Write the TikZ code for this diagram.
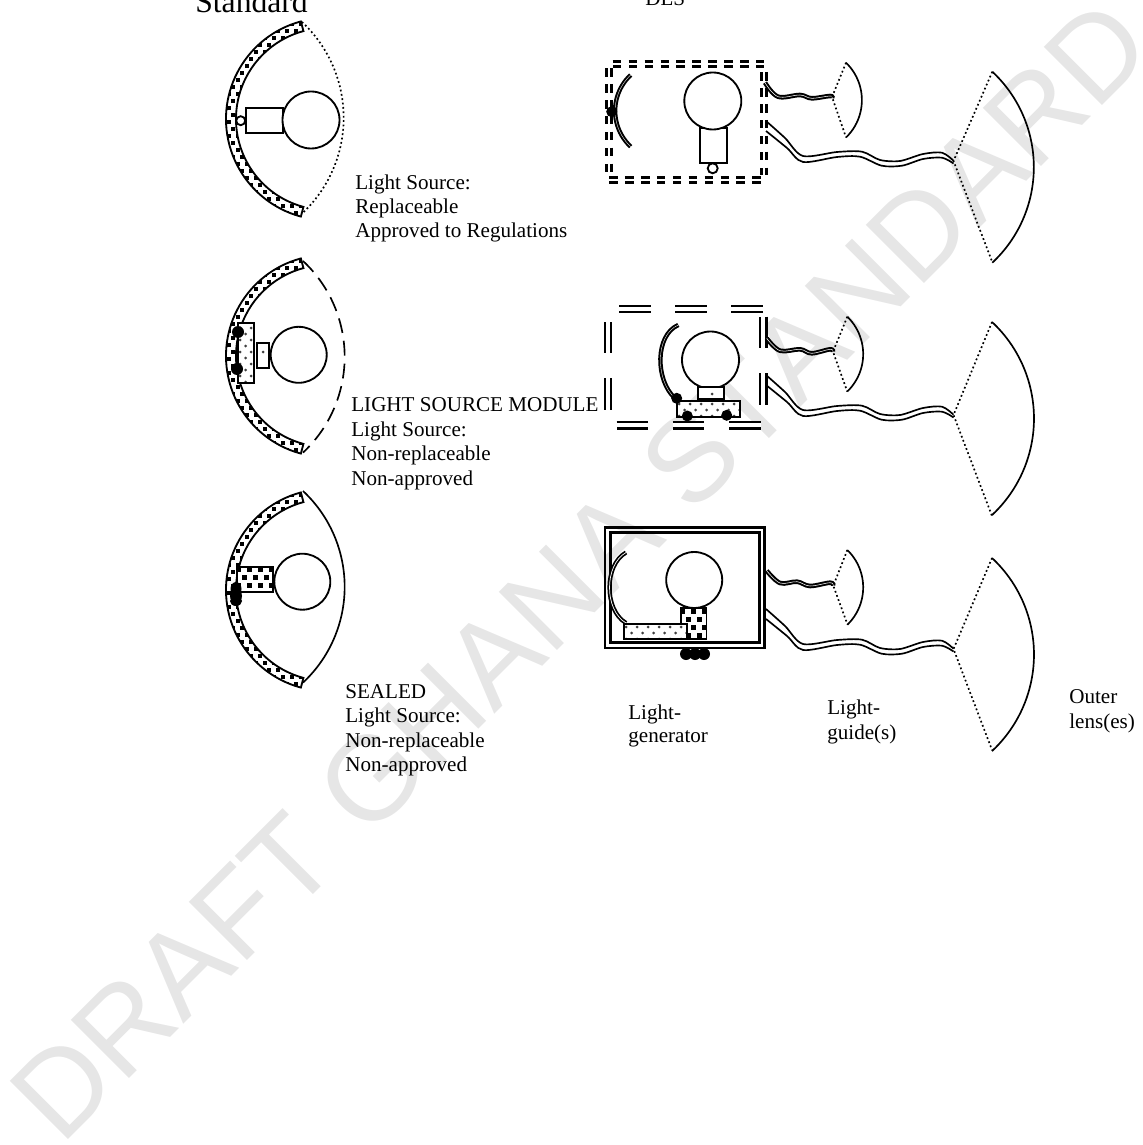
\documentclass[tikz,border=0pt]{standalone}
\usepackage{fontspec}
\setmainfont{Liberation Serif}
\newfontfamily\wmfont[Kerning=Off]{Liberation Sans}
\definecolor{wmgray}{HTML}{E6E6E6}
\tikzset{
  x=0.02cm,y=0.02cm,
  outl/.style={draw=black,line width=1.05pt},
  lbl/.style={anchor=base west,inner sep=0pt,font=\fontsize{12pt}{14pt}\selectfont},
  gline/.style={draw=black,line width=0.95pt,line join=round},
  tguide/.style={draw=black,double=white,double distance=0.3pt,line width=1.15pt},
  refl/.style={draw=black,double=white,double distance=0.2pt,line width=1.15pt},
  duo/.style={draw=black,double=white,double distance=2.2pt,line width=1.3pt},
  duodash/.style={draw=black,double=white,double distance=0.9pt,line width=1.6pt,dash pattern=on 4.93pt off 4.14pt},
  blob/.style={fill=black,draw=none},
  lensedge/.style={draw=black,line width=0.95pt},
  dotedge/.style={draw=black,line width=0.95pt,dash pattern=on 1pt off 1.5pt},
  boxline/.style={draw=black,line width=1.5pt},
}
% #1 x0, #2 y0, #3 cols, #4 rows
\newcommand{\densedots}[4]{%
  \foreach \i in {0,...,#3}{\foreach \j in {0,...,#4}{%
    \pgfmathsetmacro{\xx}{#1+\i*11+mod(\j,2)*5.5}%
    \pgfmathsetmacro{\yy}{#2-\j*8}%
    \fill[black] (\xx,\yy) rectangle +(5,5);}}}
\newcommand{\banddots}[4]{%
  \foreach \i in {0,...,#3}{\foreach \j in {0,...,#4}{%
    \pgfmathsetmacro{\xx}{#1+\i*9+mod(\j,2)*4.5}%
    \pgfmathsetmacro{\yy}{#2-\j*7}%
    \fill[black] (\xx,\yy) rectangle +(4.4,4.4);}}}
\newcommand{\sparsedots}[4]{%
  \foreach \i in {0,...,#3}{\foreach \j in {0,...,#4}{%
    \pgfmathsetmacro{\xx}{#1+\i*11+mod(\j,2)*5.5}%
    \pgfmathsetmacro{\yy}{#2-\j*6}%
    \fill[black!75] (\xx,\yy) circle (1.5);}}}
\newcommand{\band}[1]{%
  \begin{scope}[shift={(327,-#1)}]
    \begin{scope}
      \clip (105:101) arc (105:255:101) -- (255:91) arc (255:105:91) -- cycle;
      \banddots{-105}{100}{10}{29}
    \end{scope}
    \draw[outl] (105:101) arc (105:255:101) -- (255:91) arc (255:105:91) -- cycle;
  \end{scope}}
\newcommand{\bigguide}[1]{%
  \begin{scope}[shift={(0,-#1)}]
    \draw[gline] plot[smooth,tension=0.5] coordinates {(766,-121) (785,-138) (803,-156) (837,-152) (862,-151.7) (880,-160) (900,-161) (923,-154) (942,-152.7) (953.5,-160.7)};
    \draw[gline] plot[smooth,tension=0.5] coordinates {(766,-131) (787,-148) (803,-162) (837,-157) (860,-156.7) (881.7,-165.7) (902,-165.7) (923,-159) (942,-157.7) (953.5,-163.5)};
  \end{scope}}
\begin{document}
\begin{tikzpicture}
\useasboundingbox (0,0) rectangle (1142,-1145);
% watermark
\node[rotate=45,anchor=base,text=wmgray,inner sep=0pt,font=\wmfont\fontsize{68.1pt}{68pt}\selectfont] (wm) at (609.3,-598.7) {DRAFT GHANA STANDARD};

% titles
\node[lbl,font=\fontsize{18pt}{20pt}\selectfont] (t1) at (195,-13) {Standard};
\node[lbl] (t2) at (645,-6) {DLS};

% ===== left column =====
\band{119}
\draw[dotedge] (302,-22) arc (47:-47:131);
\draw[outl,fill=white] (246,-108) rectangle (283,-133);
\draw[outl,fill=white] (311,-120) circle (28.5);
\draw[outl,fill=white] (240.7,-120.7) circle (4.5);
\node[lbl] (a1) at (355,-190) {Light Source:};
\node[lbl] (a2) at (355,-213.5) {Replaceable};
\node[lbl] (a3) at (355,-238) {Approved to Regulations};

\band{356}
\draw[lensedge,dash pattern=on 8.5pt off 4.5pt] (303,-261) arc (47:-47:131);
\begin{scope}
  \clip (238,-322.7) rectangle (254,-382.7);
  \fill[white] (238,-322.7) rectangle (254,-382.7);
  \sparsedots{240}{-328}{1}{9}
\end{scope}
\draw[outl] (238,-322.7) rectangle (254,-382.7);
\draw[outl,fill=white] (256.7,-342.7) rectangle (269.3,-367.7);
\fill[black!75] (263,-352) circle (1.5);
\draw[outl,fill=white] (298.7,-354.8) circle (28);
\fill[blob] (238,-332) circle (6);
\fill[blob] (237,-369) circle (6);
\node[lbl] (b1) at (351,-411) {LIGHT SOURCE MODULE};
\node[lbl] (b2) at (351,-436) {Light Source:};
\node[lbl] (b3) at (351,-460) {Non-replaceable};
\node[lbl] (b4) at (351,-485) {Non-approved};

\band{590}
\draw[lensedge] (303,-491) arc (47:-47:131);
\begin{scope}
  \clip (236.7,-567.3) rectangle (273.3,-592.3);
  \fill[white] (236.7,-567.3) rectangle (273.3,-592.3);
  \densedots{236}{-572}{4}{3}
\end{scope}
\draw[outl] (236.7,-567.3) rectangle (273.3,-592.3);
\draw[outl,fill=white] (302.3,-581.7) circle (28);
\fill[blob] (236,-589) ellipse (5.5 and 7);
\fill[blob] (236,-596) ellipse (6 and 7);
\fill[blob] (236,-601) ellipse (6 and 5);
\node[lbl] (c1) at (345,-698.3) {SEALED};
\node[lbl] (c2) at (345,-722.7) {Light Source:};
\node[lbl] (c3) at (345,-747.5) {Non-replaceable};
\node[lbl] (c4) at (345,-771.7) {Non-approved};

% ===== right column, row 1 =====
\draw[duodash] (612.7,-64) -- (764,-64);
\draw[duodash] (609,-180) -- (762,-180);
\draw[duodash] (609,-68) -- (609,-173);
\draw[duodash] (764,-72) -- (764,-175);
\draw[refl] (630.7,-75) arc (133:227:49);
\fill[blob] (611.7,-111.7) circle (5.5);
\draw[outl,fill=white] (700,-128.3) rectangle (726.7,-163.3);
\draw[outl,fill=white] (712.8,-101) circle (28.5);
\draw[outl,fill=white] (712.7,-168.3) circle (5);
\draw[tguide] plot[smooth,tension=0.6] coordinates {(765,-82.7) (778,-96.7) (800,-95) (811.7,-98.3) (830,-96) (832,-98)};
\draw[dotedge] (846,-62.7) -- (832,-97) -- (846,-137.3);
\draw[lensedge] (846,-62.7) arc (46:-46:52);
\bigguide{0}
\draw[dotedge] (992.3,-71.7) -- (953.5,-161) -- (992.5,-262.7);
\draw[lensedge] (992.3,-71.7) arc (47:-47:130.6);

% ===== right column, row 2 =====
\foreach \a/\b in {619.3/651.3,675/707.3,731/763.3}{\draw[duo] (\a,-309) -- (\b,-309);}
\foreach \a/\b in {616.7/648.3,672.7/704.3,729/760.7}{\draw[duo] (\a,-425.3) -- (\b,-425.3);}
\foreach \a/\b in {322.3/353.3,378.3/410}{\draw[duo] (608,-\a) -- (608,-\b);}
\foreach \a/\b in {316.7/348.3,373.3/405}{\draw[duo] (763.3,-\a) -- (763.3,-\b);}
\draw[refl] (678.3,-325) .. controls (655,-335) and (655,-380) .. (675,-398.3);
\draw[outl,fill=white] (710.5,-360) circle (28.5);
\draw[outl,fill=white] (697.7,-387.3) rectangle (724.3,-399.3);
\fill[black!75] (712,-394) circle (1.5);
\begin{scope}
  \clip (676.7,-401) rectangle (740,-417.3);
  \fill[white] (676.7,-401) rectangle (740,-417.3);
  \sparsedots{679}{-404}{5}{2}
\end{scope}
\draw[outl] (676.7,-401) rectangle (740,-417.3);
\fill[blob] (676.7,-398.3) circle (5.5);
\fill[blob] (687.3,-416) circle (5.5);
\fill[blob] (726.7,-415.3) circle (5.5);
\draw[tguide] plot[smooth,tension=0.6] coordinates {(766.7,-338.3) (780,-350.7) (800,-349.3) (811.7,-353.3) (830,-349.3) (833,-351.7)};
\draw[dotedge] (847.3,-316.7) -- (833,-351.7) -- (847.3,-391.7);
\draw[lensedge] (847.3,-316.7) arc (46:-46:52);
\bigguide{254}
\draw[dotedge] (992,-322) -- (953.5,-415) -- (992,-516);
\draw[lensedge] (992,-322) arc (47:-47:132);

% ===== right column, row 3 =====
\draw[boxline] (605,-527.5) rectangle (764.2,-648);
\draw[boxline] (610.3,-532.3) rectangle (759.2,-642.7);
\draw[refl,double distance=0.4pt,line width=1pt] (626,-552.5) .. controls (604,-565) and (604,-610) .. (626,-623);
\draw[outl,fill=white] (694.2,-580) circle (28);
\begin{scope}
  \clip (681,-608) rectangle (706.5,-639.3);
  \fill[white] (681,-608) rectangle (706.5,-639.3);
  \densedots{680}{-614}{2}{3}
\end{scope}
\draw[outl] (681,-608) rectangle (706.5,-639.3);
\begin{scope}
  \clip (624.3,-624) rectangle (687.3,-639.3);
  \fill[white] (624.3,-624) rectangle (687.3,-639.3);
  \sparsedots{626}{-627}{5}{2}
\end{scope}
\draw[outl] (624.3,-624) rectangle (687.3,-639.3);
\fill[blob] (686,-654) circle (6);
\fill[blob] (695,-654) circle (6);
\fill[blob] (704,-654) circle (6);
\draw[tguide] plot[smooth,tension=0.6] coordinates {(766.7,-570.7) (780,-583) (797,-581.7) (810,-586) (830,-582.7) (833.3,-585.7)};
\draw[dotedge] (847.3,-550) -- (833.3,-585.7) -- (847.3,-624);
\draw[lensedge] (847.3,-550) arc (46:-46:52);
\bigguide{488}
\draw[dotedge] (992,-558) -- (953.5,-649) -- (992,-750);
\draw[lensedge] (992,-558) arc (47:-47:132);

% bottom labels
\node[lbl] (d1) at (628,-719) {Light-};
\node[lbl] (d2) at (628,-742.5) {generator};
\node[lbl] (e1) at (827,-714) {Light-};
\node[lbl] (e2) at (827,-739) {guide(s)};
\node[lbl] (f1) at (1069,-703) {Outer};
\node[lbl] (f2) at (1069,-728) {lens(es)};
\end{tikzpicture}
\end{document}
